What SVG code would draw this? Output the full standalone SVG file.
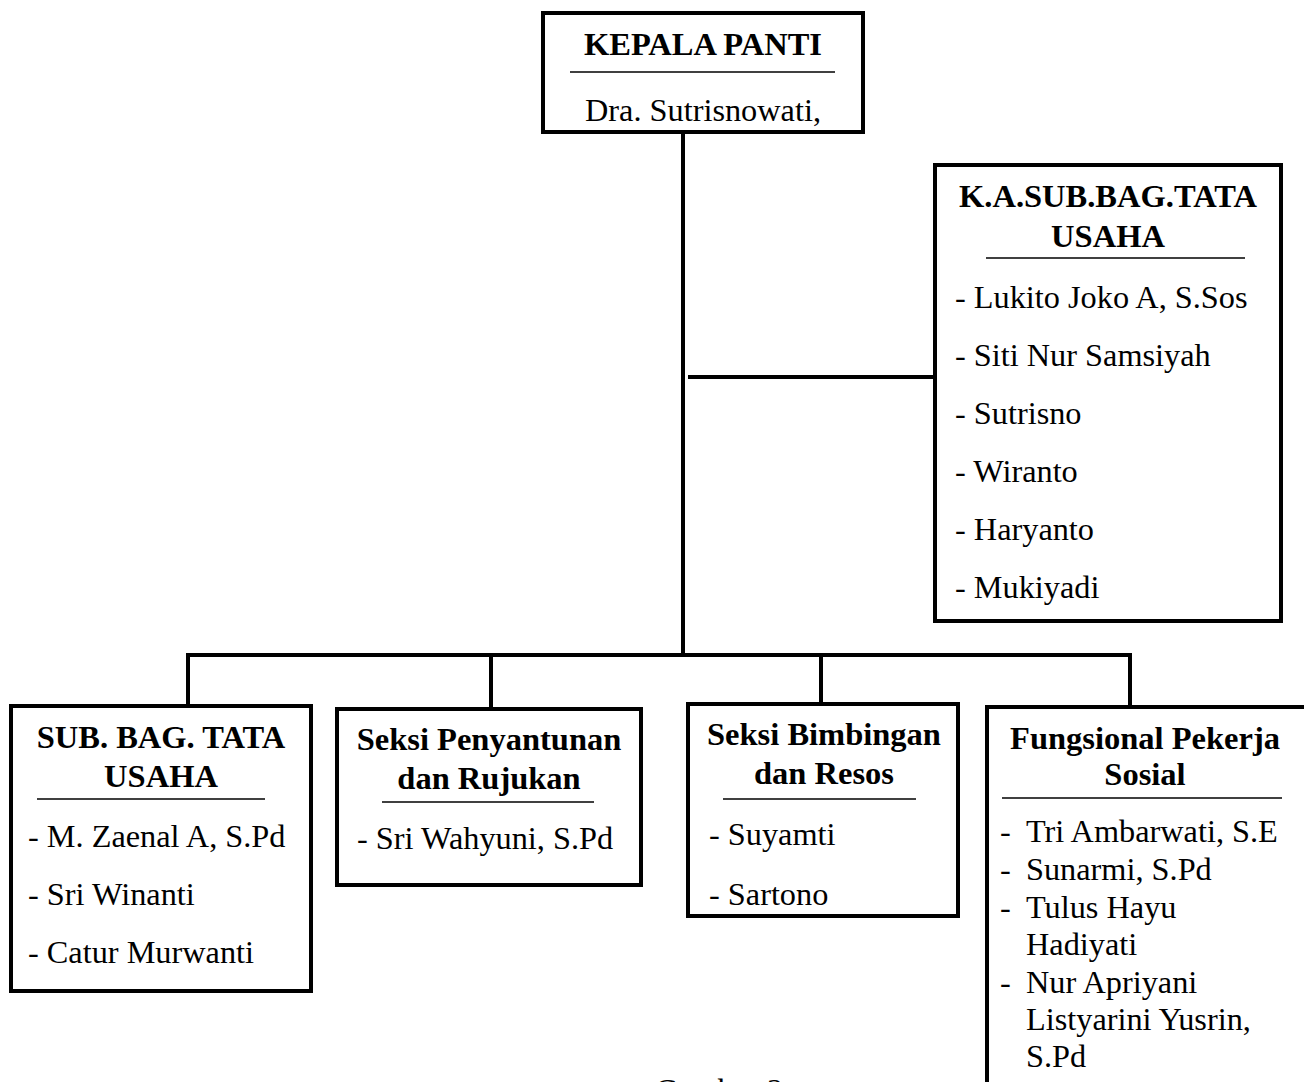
<svg xmlns="http://www.w3.org/2000/svg" width="1304" height="1082" viewBox="0 0 1304 1082">
<style>
.box{fill:#fff;stroke:#000;stroke-width:4}
.ln{stroke:#000;stroke-width:4;fill:none}
.dv{stroke:#000;stroke-width:1.5}
.t{font-family:"Liberation Serif","Times New Roman",serif;font-size:32.5px;font-weight:bold;text-anchor:middle;fill:#000}
.b{font-family:"Liberation Serif","Times New Roman",serif;font-size:32.3px;fill:#000}
</style>
<rect width="1304" height="1082" fill="#fff"/>
<g id="connectors">
<line class="ln" x1="683" y1="133" x2="683" y2="657"/>
<line class="ln" x1="688" y1="377" x2="935" y2="377"/>
<line class="ln" x1="186" y1="655" x2="1132" y2="655"/>
<line class="ln" x1="188" y1="655" x2="188" y2="705"/>
<line class="ln" x1="491" y1="655" x2="491" y2="708"/>
<line class="ln" x1="821" y1="655" x2="821" y2="703"/>
<line class="ln" x1="1130" y1="655" x2="1130" y2="706"/>
</g>
<g id="kepala">
<rect class="box" x="543" y="13" width="320" height="119"/>
<text class="t" x="703" y="55">KEPALA PANTI</text>
<line class="dv" x1="570" y1="72" x2="835" y2="72"/>
<text class="b" x="703" y="121" text-anchor="middle">Dra. Sutrisnowati,</text>
</g>
<g id="kasubbag">
<rect class="box" x="935" y="165" width="346" height="456"/>
<text class="t" x="1108" y="207">K.A.SUB.BAG.TATA</text>
<text class="t" x="1108" y="247">USAHA</text>
<line class="dv" x1="986" y1="258" x2="1245" y2="258"/>
<text class="b" x="955" y="308">- Lukito Joko A, S.Sos</text>
<text class="b" x="955" y="366">- Siti Nur Samsiyah</text>
<text class="b" x="955" y="424">- Sutrisno</text>
<text class="b" x="955" y="482">- Wiranto</text>
<text class="b" x="955" y="540">- Haryanto</text>
<text class="b" x="955" y="598">- Mukiyadi</text>
</g>
<g id="subbag">
<rect class="box" x="11" y="706" width="300" height="285"/>
<text class="t" x="161" y="748">SUB. BAG. TATA</text>
<text class="t" x="161" y="787">USAHA</text>
<line class="dv" x1="37" y1="799" x2="265" y2="799"/>
<text class="b" x="28" y="847">- M. Zaenal A, S.Pd</text>
<text class="b" x="28" y="905">- Sri Winanti</text>
<text class="b" x="28" y="963">- Catur Murwanti</text>
</g>
<g id="penyantunan">
<rect class="box" x="337" y="709" width="304" height="176"/>
<text class="t" x="489" y="750">Seksi Penyantunan</text>
<text class="t" x="489" y="789">dan Rujukan</text>
<line class="dv" x1="382" y1="802" x2="594" y2="802"/>
<text class="b" x="357" y="849">- Sri Wahyuni, S.Pd</text>
</g>
<g id="bimbingan">
<rect class="box" x="688" y="704" width="270" height="212"/>
<text class="t" x="824" y="745">Seksi Bimbingan</text>
<text class="t" x="824" y="784">dan Resos</text>
<line class="dv" x1="723" y1="799" x2="916" y2="799"/>
<text class="b" x="709" y="845">- Suyamti</text>
<text class="b" x="709" y="905">- Sartono</text>
</g>
<g id="fungsional">
<rect class="box" x="987" y="707" width="340" height="400"/>
<text class="t" x="1145" y="749">Fungsional Pekerja</text>
<text class="t" x="1145" y="785">Sosial</text>
<line class="dv" x1="1002" y1="798" x2="1282" y2="798"/>
<text class="b" x="1000" y="842">-</text>
<text class="b" x="1026" y="842">Tri Ambarwati, S.E</text>
<text class="b" x="1000" y="880">-</text>
<text class="b" x="1026" y="880">Sunarmi, S.Pd</text>
<text class="b" x="1000" y="918">-</text>
<text class="b" x="1026" y="918">Tulus Hayu</text>
<text class="b" x="1026" y="955">Hadiyati</text>
<text class="b" x="1000" y="993">-</text>
<text class="b" x="1026" y="993">Nur Apriyani</text>
<text class="b" x="1026" y="1030">Listyarini Yusrin,</text>
<text class="b" x="1026" y="1067">S.Pd</text>
</g>
<text class="b" x="655" y="1101">Gambar 2</text>
</svg>
